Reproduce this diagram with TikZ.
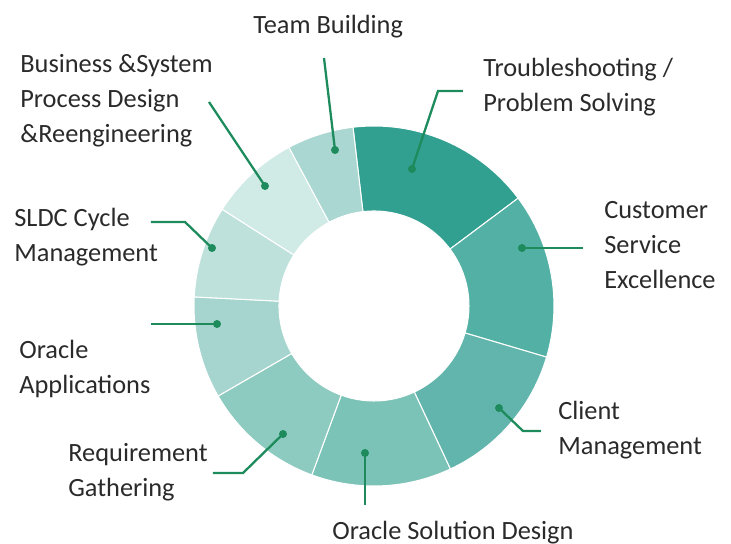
\documentclass[tikz,border=0pt]{standalone}
\usepackage{fontspec}
\setmainfont{Carlito}
\usetikzlibrary{positioning}
\definecolor{leadgreen}{HTML}{1D8B5C}
\definecolor{inktext}{HTML}{2A2A2A}
\definecolor{segA}{HTML}{31A090}
\definecolor{segB}{HTML}{52B0A4}
\definecolor{segC}{HTML}{62B5AC}
\definecolor{segD}{HTML}{7BC2B7}
\definecolor{segE}{HTML}{8DCAC0}
\definecolor{segF}{HTML}{A5D5CE}
\definecolor{segG}{HTML}{BEE1DB}
\definecolor{segH}{HTML}{D0EAE5}
\definecolor{segI}{HTML}{AAD7D1}
\begin{document}
\begin{tikzpicture}[x=0.02cm, y=0.02cm]
\tikzstyle{segment} = [draw=white, line width=0.6pt]
\tikzstyle{dot} = [circle, fill=leadgreen, inner sep=0pt, minimum size=0.16cm]
\tikzstyle{leader} = [draw=leadgreen, line width=1.3pt]
\tikzstyle{skill} = [anchor=base west, align=left, inner sep=0pt, text=inktext, font=\fontsize{15pt}{20.2pt}\selectfont]

\useasboundingbox (-374,-238) rectangle (357,306);

\fill [segment, fill=segA] (96.7:180) arc [start angle=96.7, end angle=36.8, radius=180] -- (36.8:95) arc [start angle=36.8, end angle=96.7, radius=95] -- cycle;
\fill [segment, fill=segB] (36.8:180) arc [start angle=36.8, end angle=-16.5, radius=180] -- (-16.5:95) arc [start angle=-16.5, end angle=36.8, radius=95] -- cycle;
\fill [segment, fill=segC] (-16.5:180) arc [start angle=-16.5, end angle=-64.9, radius=180] -- (-64.9:95) arc [start angle=-64.9, end angle=-16.5, radius=95] -- cycle;
\fill [segment, fill=segD] (-64.9:180) arc [start angle=-64.9, end angle=-110.2, radius=180] -- (-110.2:95) arc [start angle=-110.2, end angle=-64.9, radius=95] -- cycle;
\fill [segment, fill=segE] (-110.2:180) arc [start angle=-110.2, end angle=-150, radius=180] -- (-150:95) arc [start angle=-150, end angle=-110.2, radius=95] -- cycle;
\fill [segment, fill=segF] (210:180) arc [start angle=210, end angle=177.1, radius=180] -- (177.1:95) arc [start angle=177.1, end angle=210, radius=95] -- cycle;
\fill [segment, fill=segG] (177.1:180) arc [start angle=177.1, end angle=147.5, radius=180] -- (147.5:95) arc [start angle=147.5, end angle=177.1, radius=95] -- cycle;
\fill [segment, fill=segH] (147.5:180) arc [start angle=147.5, end angle=118.2, radius=180] -- (118.2:95) arc [start angle=118.2, end angle=147.5, radius=95] -- cycle;
\fill [segment, fill=segI] (118.2:180) arc [start angle=118.2, end angle=96.7, radius=180] -- (96.7:95) arc [start angle=96.7, end angle=118.2, radius=95] -- cycle;

\node (TeamBuilding) [skill] at (-121,272) {Team Building};
\node (BusinessProcess) [skill] at (-354,163) {Business \&System\\Process Design\\\&Reengineering};
\node (Troubleshooting) [skill] at (109,194) {Troubleshooting /\\Problem Solving};
\node (CustomerService) [skill] at (230,17) {Customer\\Service\\Excellence};
\node (ClientManagement) [skill] at (184,-149) {Client\\Management};
\node (OracleSolution) [skill] at (-42,-234) {Oracle Solution Design};
\node (RequirementGathering) [skill] at (-306,-191) {Requirement\\Gathering};
\node (OracleApplications) [skill] at (-355,-88) {Oracle\\Applications};
\node (SldcCycle) [skill] at (-360,44) {SLDC Cycle\\Management};

\node (TeamBuildingDot) [dot] at (-39,156) {};
\node (TroubleshootingDot) [dot] at (38,137) {};
\node (BusinessProcessDot) [dot] at (-109,120) {};
\node (CustomerServiceDot) [dot] at (148,58) {};
\node (ClientManagementDot) [dot] at (125,-102) {};
\node (OracleSolutionDot) [dot] at (-9,-147) {};
\node (RequirementGatheringDot) [dot] at (-91,-128) {};
\node (OracleApplicationsDot) [dot] at (-157,-18) {};
\node (SldcCycleDot) [dot] at (-162,58) {};

\coordinate (TeamBuildingEnd) at (-50,248);
\coordinate (TroubleshootingBend) at (64,215);
\coordinate (TroubleshootingEnd) at (89,215);
\coordinate (BusinessProcessEnd) at (-165,204);
\coordinate (CustomerServiceEnd) at (209,58);
\coordinate (ClientManagementBend) at (149,-125);
\coordinate (ClientManagementEnd) at (167,-125);
\coordinate (OracleSolutionEnd) at (-9,-199);
\coordinate (RequirementGatheringBend) at (-131,-167);
\coordinate (RequirementGatheringEnd) at (-161,-167);
\coordinate (OracleApplicationsEnd) at (-223,-18);
\coordinate (SldcCycleBend) at (-189,84);
\coordinate (SldcCycleEnd) at (-223,84);

\draw [leader] (TeamBuildingDot.center) -- (TeamBuildingEnd);
\draw [leader] (TroubleshootingDot.center) -- (TroubleshootingBend) -- (TroubleshootingEnd);
\draw [leader] (BusinessProcessDot.center) -- (BusinessProcessEnd);
\draw [leader] (CustomerServiceDot.center) -- (CustomerServiceEnd);
\draw [leader] (ClientManagementDot.center) -- (ClientManagementBend) -- (ClientManagementEnd);
\draw [leader] (OracleSolutionDot.center) -- (OracleSolutionEnd);
\draw [leader] (RequirementGatheringDot.center) -- (RequirementGatheringBend) -- (RequirementGatheringEnd);
\draw [leader] (OracleApplicationsDot.center) -- (OracleApplicationsEnd);
\draw [leader] (SldcCycleDot.center) -- (SldcCycleBend) -- (SldcCycleEnd);

\end{tikzpicture}
\end{document}
